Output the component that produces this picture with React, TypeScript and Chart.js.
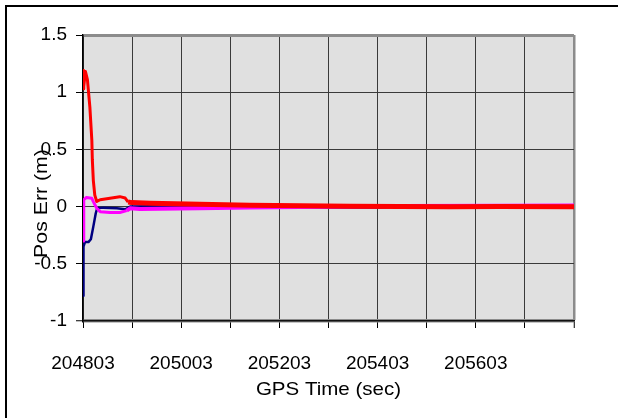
import React, { useEffect, useRef } from 'react';
import { Chart, registerables } from 'chart.js';

Chart.register(...registerables);

// GPS time (sec) of each sampled point, per series
const TIME_RED = [204803, 204804, 204805, 204808, 204812, 204817, 204821, 204822, 204824, 204827, 204831, 204838, 204858, 204878, 204889, 204895, 204902, 204940, 205041, 205143, 205245, 205347, 205449, 205550, 205652, 205803];
const ERR_RED = [1.03, 1.19, 1.05, 1.18, 1.11, 0.87, 0.58, 0.41, 0.23, 0.1, 0.045, 0.06, 0.073, 0.087, 0.075, 0.04, 0.035, 0.03, 0.02, 0.012, 0.008, 0.002, 0.0, -0.002, 0.0, -0.002];

const TIME_MAGENTA = [204803, 204804, 204805, 204810, 204821, 204824, 204831, 204838, 204858, 204878, 204892, 204899, 204919, 205041, 205143, 205245, 205347, 205449, 205652, 205803];
const ERR_MAGENTA = [-0.3, -0.1, 0.06, 0.08, 0.073, 0.044, -0.014, -0.044, -0.052, -0.052, -0.035, -0.015, -0.02, -0.015, -0.008, -0.003, 0.0, 0.005, 0.008, 0.01];

const TIME_NAVY = [204803, 204804, 204807, 204814, 204819, 204824, 204829, 204832, 204844, 204872, 204889, 204899, 204940, 205143, 205306, 205408, 205490, 205803];
const ERR_NAVY = [-0.78, -0.35, -0.31, -0.31, -0.285, -0.175, -0.058, -0.014, -0.009, -0.014, -0.023, 0.0, 0.003, 0.002, -0.008, -0.008, 0.005, 0.008];

// axis ticks
const X_TICKS = [204803, 204903, 205003, 205103, 205203, 205303, 205403, 205503, 205603, 205703, 205803];
const X_LABELS = ['204803', '', '205003', '', '205203', '', '205403', '', '205603', '', ''];
const Y_MIN = -1;
const Y_MAX = 1.5;
const Y_STEP = 0.5;

const X_TITLE = 'GPS Time (sec)';
const Y_TITLE = 'Pos Err (m)';

// time after which the traces become a noisy, wider band
const SETTLE_TIME = 204890;

const FONT = '"Liberation Sans", Arial, Helvetica, sans-serif';

const framePlugin = {
  id: 'frame',
  beforeDraw(chart: any) {
    const { ctx, chartArea, width, height } = chart;
    ctx.save();
    ctx.fillStyle = '#ffffff';
    ctx.fillRect(0, 0, width, height);
    ctx.fillStyle = '#000000';
    ctx.fillRect(5, 5, width - 5, 2);
    ctx.fillRect(5, 5, 2, height - 5);
    ctx.fillStyle = '#e0e0e0';
    ctx.fillRect(chartArea.left, chartArea.top, chartArea.right - chartArea.left, chartArea.bottom - chartArea.top);
    ctx.restore();
  },
  afterDraw(chart: any) {
    const { ctx, chartArea } = chart;
    ctx.save();
    ctx.fillStyle = '#000000';
    ctx.font = '19px ' + FONT;
    ctx.textAlign = 'center';
    ctx.textBaseline = 'alphabetic';
    ctx.save();
    ctx.translate((chartArea.left + chartArea.right) / 2, chartArea.bottom + 74);
    ctx.scale(1.08, 1);
    ctx.fillText(X_TITLE, 0, 0);
    ctx.restore();
    ctx.save();
    ctx.translate(chartArea.left - 36.5, chartArea.top + 168.5);
    ctx.rotate(-Math.PI / 2);
    ctx.scale(1.12, 1);
    ctx.fillText(Y_TITLE, 0, 0);
    ctx.restore();
    ctx.restore();
  },
};

const widthBySettle = (early: number, late: number) => (c: any) =>
  c.p0 && c.p0.parsed && c.p0.parsed.x >= SETTLE_TIME ? late : early;

export default function App() {
  const ref = useRef<HTMLCanvasElement | null>(null);

  useEffect(() => {
    if (!ref.current) return;
    const toPts = (t: number[], v: number[]) => t.map((x, i) => ({ x, y: v[i] }));
    const chart = new Chart(ref.current, {
      type: 'line',
      data: {
        datasets: [
          {
            label: 'red',
            data: toPts(TIME_RED, ERR_RED),
            borderColor: '#ff0000',
            borderWidth: 3,
            segment: { borderWidth: widthBySettle(3, 5) },
            pointRadius: 0,
            tension: 0,
            borderJoinStyle: 'round',
          },
          {
            label: 'magenta',
            data: toPts(TIME_MAGENTA, ERR_MAGENTA),
            borderColor: '#ff00ff',
            borderWidth: 3,
            segment: { borderWidth: widthBySettle(3, 4) },
            pointRadius: 0,
            tension: 0,
            borderJoinStyle: 'round',
          },
          {
            label: 'navy',
            data: toPts(TIME_NAVY, ERR_NAVY),
            borderColor: '#000080',
            borderWidth: 2.5,
            pointRadius: 0,
            tension: 0,
            borderJoinStyle: 'round',
          },
        ],
      },
      options: {
        responsive: false,
        animation: false,
        devicePixelRatio: 1,
        layout: { padding: { top: 35, right: 44, bottom: 0, left: 0 } },
        plugins: { legend: { display: false }, tooltip: { enabled: false }, title: { display: false } },
        scales: {
          x: {
            type: 'linear',
            min: X_TICKS[0],
            max: X_TICKS[X_TICKS.length - 1],
            afterBuildTicks: (scale: any) => {
              scale.ticks = X_TICKS.map((value) => ({ value }));
            },
            afterFit: (scale: any) => {
              scale.height = 97;
            },
            ticks: {
              autoSkip: false,
              maxRotation: 0,
              padding: 24,
              color: '#000',
              font: { family: FONT, size: 19 },
              callback: (_v: any, i: number) => X_LABELS[i],
            },
            grid: {
              color: (c: any) => (c.tick && c.tick.value === X_TICKS[X_TICKS.length - 1] ? '#8c8c8c' : '#3a3a3a'),
              lineWidth: (c: any) => (c.tick && c.tick.value === X_TICKS[X_TICKS.length - 1] ? 2.5 : 1),
              tickColor: '#000',
              tickWidth: 1,
              tickLength: 7,
              drawTicks: true,
            },
            border: { display: true, color: '#111', width: 1.5 },
          },
          y: {
            type: 'linear',
            min: Y_MIN,
            max: Y_MAX,
            afterFit: (scale: any) => {
              scale.width = 83;
            },
            ticks: {
              stepSize: Y_STEP,
              padding: 9,
              color: '#000',
              font: { family: FONT, size: 19 },
              callback: (v: any) => String(v),
            },
            grid: {
              color: (c: any) => {
                const v = c.tick && c.tick.value;
                if (v === Y_MAX || v === Y_MIN) return '#8c8c8c';
                return '#3a3a3a';
              },
              lineWidth: (c: any) => {
                const v = c.tick && c.tick.value;
                if (v === Y_MAX) return 3;
                if (v === Y_MIN) return 3.5;
                return 1;
              },
              tickColor: '#000',
              tickWidth: 1,
              tickLength: 7,
              drawTicks: true,
            },
            border: { display: true, color: '#000', width: 1.5 },
          },
        },
      },
      plugins: [framePlugin],
    } as any);
    return () => chart.destroy();
  }, []);

  return (
    <div style={{ position: 'absolute', left: 0, top: 0, width: 618, height: 418 }}>
      <canvas ref={ref} width={618} height={418} style={{ display: 'block', width: 618, height: 418 }} />
    </div>
  );
}
